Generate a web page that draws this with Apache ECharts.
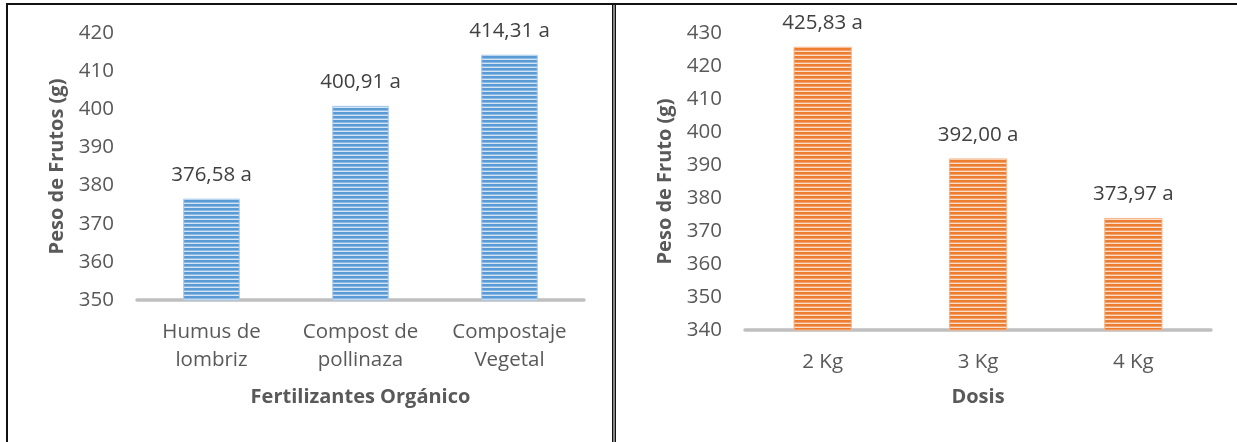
<!DOCTYPE html>
<html>
<head>
<meta charset="utf-8">
<script src="https://cdn.jsdelivr.net/npm/echarts@6/dist/echarts.min.js"></script>
<style>
  html, body { margin: 0; padding: 0; background: #fff; }
  #chart { width: 1237px; height: 442px; }
</style>
</head>
<body>
<div id="chart"></div>
<script>
// Peso de frutos por tipo de fertilizante orgánico
const fertCategories = ['Humus de\nlombriz', 'Compost de\npollinaza', 'Compostaje\nVegetal'];
const fertValues = [376.58, 400.91, 414.31];
const fertLetters = ['a', 'a', 'a'];

// Peso de fruto por dosis aplicada
const doseCategories = ['2 Kg', '3 Kg', '4 Kg'];
const doseValues = [425.83, 392.00, 373.97];
const doseLetters = ['a', 'a', 'a'];

const FONT = '"Open Sans", "Noto Sans", sans-serif';
const AXIS_TEXT = '#595959';
const LABEL_TEXT = '#404040';

// Horizontal-stripe fill used for the bars
function stripePattern(dark, mid, light) {
  const c = document.createElement('canvas');
  c.width = 4; c.height = 4;
  const g = c.getContext('2d');
  g.fillStyle = dark;  g.fillRect(0, 0, 4, 2);
  g.fillStyle = mid;   g.fillRect(0, 2, 4, 1);
  g.fillStyle = light; g.fillRect(0, 3, 4, 1);
  return { image: c, repeat: 'repeat' };
}

const blueFill = stripePattern('#5B9BD5', '#8DBAE4', '#D3E4F4');
const orangeFill = stripePattern('#ED7D31', '#F2A26C', '#FBDCC6');

function fmt(v, letter) {
  return v.toFixed(2).replace('.', ',') + ' ' + letter;
}

const chart = echarts.init(document.getElementById('chart'), null, { renderer: 'canvas' });

function catAxis(gridIndex, data, name, nameGap) {
  return {
    type: 'category',
    gridIndex,
    data,
    name,
    nameLocation: 'middle',
    nameGap,
    nameTextStyle: { fontFamily: FONT, fontSize: 20, fontWeight: 'bold', color: AXIS_TEXT },
    axisLine: { show: true, lineStyle: { color: '#BFBFBF', width: 3.5 } },
    axisTick: { show: false },
    axisLabel: {
      fontFamily: FONT, fontSize: 20.5, color: AXIS_TEXT,
      lineHeight: 28, margin: 18, interval: 0
    }
  };
}

function valAxis(gridIndex, min, max, name) {
  return {
    type: 'value',
    gridIndex,
    min, max, interval: 10,
    name,
    nameLocation: 'middle',
    nameRotate: 90,
    nameGap: 70,
    nameTextStyle: { fontFamily: FONT, fontSize: 20, fontWeight: 'bold', color: AXIS_TEXT },
    axisLine: { show: false },
    axisTick: { show: false },
    splitLine: { show: false },
    axisLabel: { fontFamily: FONT, fontSize: 20.5, color: AXIS_TEXT, margin: 23 }
  };
}

function barSeries(idx, values, letters, fill, edge, width) {
  return {
    type: 'bar',
    xAxisIndex: idx,
    yAxisIndex: idx,
    data: values,
    barWidth: width,
    itemStyle: { color: fill, borderColor: edge, borderWidth: 1 },
    label: {
      show: true,
      position: 'top',
      distance: 13,
      fontFamily: FONT,
      fontSize: 20.5,
      color: LABEL_TEXT,
      formatter: p => fmt(p.value, letters[p.dataIndex])
    },
    silent: true
  };
}

chart.setOption({
  animation: false,
  backgroundColor: '#ffffff',
  grid: [
    { left: 137, top: 33, width: 447, height: 267 },
    { left: 745, top: 33, width: 466, height: 297 }
  ],
  xAxis: [
    catAxis(0, fertCategories, 'Fertilizantes Orgánico', 87),
    catAxis(1, doseCategories, 'Dosis', 57)
  ],
  yAxis: [
    valAxis(0, 350, 420, 'Peso de Frutos (g)'),
    valAxis(1, 340, 430, 'Peso de Fruto (g)')
  ],
  series: [
    barSeries(0, fertValues, fertLetters, blueFill, '#A9CBEB', '38%'),
    barSeries(1, doseValues, doseLetters, orangeFill, '#F5B58A', '37.5%')
  ],
  graphic: [
    // frame: top rule, left rule and the double divider between the panels
    { type: 'rect', shape: { x: 6, y: 3, width: 1231, height: 2 }, style: { fill: '#111' }, silent: true },
    { type: 'rect', shape: { x: 6, y: 3, width: 2, height: 439 }, style: { fill: '#111' }, silent: true },
    { type: 'rect', shape: { x: 612, y: 3, width: 1.5, height: 439 }, style: { fill: '#111' }, silent: true },
    { type: 'rect', shape: { x: 614.5, y: 3, width: 1.5, height: 439 }, style: { fill: '#111' }, silent: true }
  ]
});
</script>
</body>
</html>
